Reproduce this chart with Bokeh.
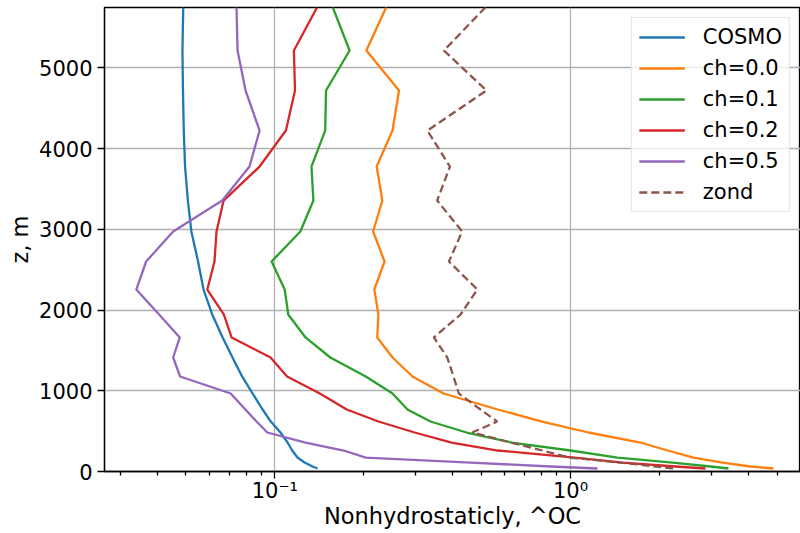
from bokeh.plotting import figure
from bokeh.models import Range1d, FixedTicker
from bokeh.embed import file_html
from bokeh.resources import INLINE

# heights of the levels (m)
z = [5750, 5214, 4719, 4223, 3777, 3356, 2973, 2601, 2254, 1945, 1660, 1412,
     1177, 966, 768, 619, 483, 359, 260, 173, 111, 62, 37]

cosmo = [0.0490, 0.0487, 0.0489, 0.0492, 0.0497, 0.0508, 0.0522, 0.0550, 0.0574,
         0.0614, 0.0666, 0.0719, 0.0775, 0.0841, 0.0909, 0.0969, 0.1045, 0.1104,
         0.1145, 0.1193, 0.1260, 0.1341, 0.1394]
ch00 = [0.238, 0.204, 0.263, 0.250, 0.221, 0.231, 0.215, 0.235, 0.217, 0.224,
        0.222, 0.250, 0.292, 0.372, 0.567, 0.802, 1.150, 1.725, 2.129, 2.606,
        3.266, 4.062, 4.859]
ch01 = [0.157, 0.179, 0.149, 0.148, 0.133, 0.135, 0.122, 0.0975, 0.108, 0.111,
        0.127, 0.154, 0.203, 0.250, 0.281, 0.336, 0.445, 0.632, 1.000, 1.442,
        2.213, 2.975, 3.422]
ch02 = [0.139, 0.116, 0.117, 0.109, 0.0888, 0.0671, 0.0635, 0.0625, 0.0591,
        0.0672, 0.0714, 0.0967, 0.110, 0.142, 0.175, 0.224, 0.297, 0.396, 0.567,
        1.032, 1.500, 2.265, 2.861]
ch05 = [0.0742, 0.0748, 0.0796, 0.0888, 0.0821, 0.0664, 0.0453, 0.0367, 0.0340,
        0.0406, 0.0477, 0.0453, 0.0478, 0.0709, 0.0795, 0.0867, 0.0943, 0.127,
        0.171, 0.203, 0.459, 0.856, 1.234]
zond = [0.516, 0.373, 0.520, 0.328, 0.391, 0.354, 0.430, 0.388, 0.484, 0.425,
        0.345, 0.383, 0.402, 0.419, 0.496, 0.565, 0.465, 0.627, 0.804, 0.992,
        1.476, 1.939, 2.230]

series_names = ["COSMO", "ch=0.0", "ch=0.1", "ch=0.2", "ch=0.5", "zond"]
series_values = [cosmo, ch00, ch01, ch02, ch05, zond]
colors = ["#1f77b4", "#ff7f0e", "#2ca02c", "#d62728", "#9467bd", "#8c564b"]

x_major = [0.1, 1.0]
x_major_labels = {0.1: "10\u207b\u00b9", 1.0: "10\u2070"}
x_minor = [0.03, 0.04, 0.05, 0.06, 0.07, 0.08, 0.09,
           0.2, 0.3, 0.4, 0.5, 0.6, 0.7, 0.8, 0.9,
           2, 3, 4, 5]
y_ticks = [0, 1000, 2000, 3000, 4000, 5000]

FONT = "DejaVu Sans"
FS = "21px"
FS_LABEL = "22.5px"

p = figure(x_axis_type="log",
           x_range=Range1d(0.02654, 5.995), y_range=Range1d(0, 5747),
           frame_width=696, frame_height=464,
           min_border_left=104, min_border_right=0,
           min_border_top=7, min_border_bottom=62,
           output_backend="svg", toolbar_location=None,
           background_fill_color="white", border_fill_color="white")

p.outline_line_color = "black"
p.outline_line_width = 1.3

for name, vals, col in zip(series_names, series_values, colors):
    if name == "zond":
        p.line(vals, z, line_color=col, line_width=2.3, line_dash="8 4",
               legend_label=name)
    else:
        p.line(vals, z, line_color=col, line_width=2.3, line_join="round",
               legend_label=name)

# axes
xa = p.xaxis[0]
xa.ticker = FixedTicker(ticks=x_major, minor_ticks=x_minor)
xa.major_label_overrides = x_major_labels
ya = p.yaxis[0]
ya.ticker = FixedTicker(ticks=y_ticks)
ya.minor_tick_line_color = None

for ax in (xa, ya):
    ax.axis_line_color = "black"
    ax.axis_line_width = 1.3
    ax.major_tick_line_color = "black"
    ax.major_tick_line_width = 1.3
    ax.minor_tick_line_width = 1.3
    ax.major_tick_in = 0
    ax.major_tick_out = 7
    ax.minor_tick_in = 0
    ax.minor_tick_out = 4
    ax.major_label_text_font = FONT
    ax.major_label_text_font_size = FS
    ax.major_label_text_color = "black"
    ax.axis_label_text_font = FONT
    ax.axis_label_text_font_size = FS_LABEL
    ax.axis_label_text_font_style = "normal"
    ax.axis_label_text_color = "black"
xa.minor_tick_line_color = "black"

xa.axis_label = "Nonhydrostaticly, ^OC"
ya.axis_label = "z, m"
xa.major_label_standoff = 0
xa.axis_label_standoff = -3
ya.major_label_standoff = 5
ya.axis_label_standoff = 3

# grid
p.xgrid.ticker = FixedTicker(ticks=x_major)
p.ygrid.ticker = FixedTicker(ticks=y_ticks)
for g in (p.xgrid[0], p.ygrid[0]):
    g.grid_line_color = "#b0b0b0"
    g.grid_line_width = 1.3
    g.minor_grid_line_color = None

# legend
lg = p.legend[0]
lg.location = "top_right"
lg.margin = 10
lg.label_text_font = FONT
lg.label_text_font_size = FS
lg.label_text_color = "black"
lg.glyph_width = 46
lg.glyph_height = 20
lg.label_standoff = 18
lg.label_height = 24
lg.spacing = 7
lg.padding = 7
lg.border_line_color = "#cccccc"
lg.border_line_width = 1.3
lg.background_fill_alpha = 0.8

open("out.html", "w").write(file_html(p, INLINE))
